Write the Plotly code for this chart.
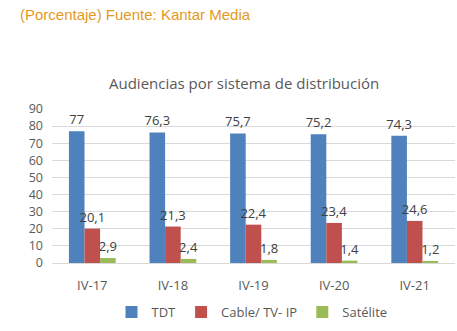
import plotly.graph_objects as go

categories = ["IV-17", "IV-18", "IV-19", "IV-20", "IV-21"]
tdt = [77, 76.3, 75.7, 75.2, 74.3]
cable = [20.1, 21.3, 22.4, 23.4, 24.6]
satelite = [2.9, 2.4, 1.8, 1.4, 1.2]
series_names = ["TDT", "Cable/ TV- IP", "Satélite"]
colors = ["#4F81BD", "#C0504D", "#9BBB59"]
y_ticks = [0, 10, 20, 30, 40, 50, 60, 70, 80, 90]

def fmt(v):
    return f"{v:g}".replace(".", ",")

L, R, T, B, W, H = 52, 2, 109, 68, 457, 331
pw = W - L - R
ph = H - T - B

def px(x):
    return (x - L) / pw

def py(y):
    return (H - B - y) / ph

fig = go.Figure()
for name, vals, col in zip(series_names, [tdt, cable, satelite], colors):
    fig.add_trace(go.Bar(
        x=categories, y=vals, name=name, marker_color=col,
        marker_line_width=0,
        text=[fmt(v) for v in vals], textposition="outside",
        constraintext="none",
        textfont=dict(color="#404040", size=13), cliponaxis=False,
    ))

fig.update_layout(
    width=W, height=H,
    margin=dict(l=L, r=R, t=T, b=B),
    paper_bgcolor="white", plot_bgcolor="white",
    font=dict(family="Open Sans, Liberation Sans, sans-serif", color="#595959", size=12),
    barmode="group", bargap=0.42, bargroupgap=0,
    showlegend=True,
    legend=dict(orientation="h", x=px(252), xanchor="center", y=py(312), yanchor="middle",
                font=dict(size=13, color="#595959"), itemwidth=30,
                traceorder="normal"),
    annotations=[
        dict(text="(Porcentaje) Fuente: Kantar Media", x=px(18), y=py(15), xref="paper", yref="paper",
             showarrow=False, xanchor="left", yanchor="middle",
             font=dict(family="Liberation Sans, Arial, sans-serif", size=15, color="#E39A1C")),
        dict(text="Audiencias por sistema de distribución", x=px(244), y=py(83),
             xref="paper", yref="paper",
             showarrow=False, xanchor="center", yanchor="middle",
             font=dict(size=15, color="#595959")),
    ],
)

fig.update_xaxes(showline=True, linecolor="#D9D9D9", ticks="", ticklabelstandoff=10,
                 tickfont=dict(size=13, color="#595959"))
fig.update_yaxes(range=[0, 90], tickvals=y_ticks, showgrid=True, gridcolor="#D9D9D9",
                 zeroline=False, tickfont=dict(size=12.5, color="#595959"), ticklabelstandoff=8)

fig.write_html("out.html")
